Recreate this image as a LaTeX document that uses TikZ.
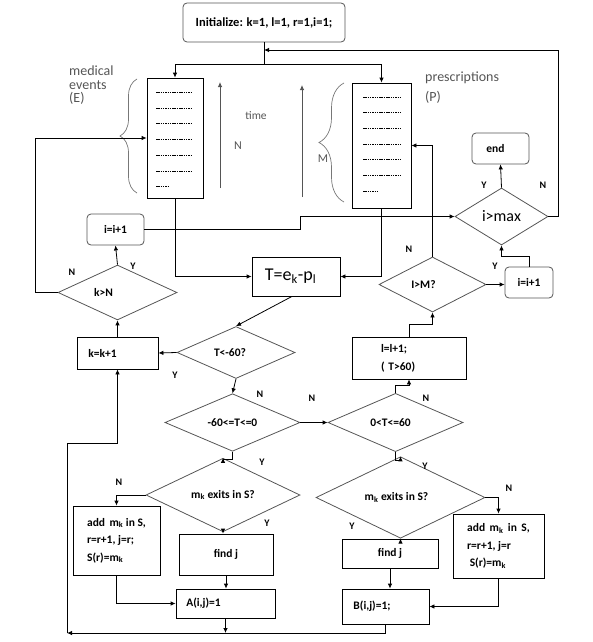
\documentclass[tikz,border=0pt]{standalone}
\usepackage{fontspec}
\setmainfont{Carlito}
\usetikzlibrary{arrows.meta,shapes.geometric,decorations.pathreplacing}
\definecolor{fgray}{HTML}{555555}
\newcommand{\pad}[1]{\rule{#1}{0pt}}
\tikzset{
  box/.style={draw, line width=0.8pt, inner sep=2pt, align=center, font=\bfseries\fontsize{11.5}{13}\selectfont},
  rbox/.style={box, rounded corners=4pt, draw=fgray},
  test/.style={draw=fgray, line width=0.8pt, shape=diamond, inner sep=0pt, font=\bfseries\fontsize{11.5}{13}\selectfont},
  arr/.style={line width=0.8pt, -{Latex[length=5pt,width=4.5pt]}},
  ln/.style={line width=0.8pt},
  yn/.style={font=\bfseries\fontsize{10}{12}\selectfont},
  rows/.style={line width=0.5pt, dash pattern=on 1.5pt off 0.8pt},
  curly/.style={draw=fgray!80, line width=0.7pt, decorate},
}
\begin{document}
\begin{tikzpicture}[x=1pt, y=-1pt]
\useasboundingbox (0,0) rectangle (593,642);
% ---------------- start and the two lists ----------------
\node[rbox, minimum width=162pt, minimum height=39pt, font=\bfseries\fontsize{12.5}{14}\selectfont] (init) at (264,22.5) {Initialize: k=1, l=1, r=1,i=1;};
\node[draw, line width=0.8pt, minimum width=56pt, minimum height=120pt] (E) at (175,138) {};
\node[draw, line width=0.8pt, minimum width=59pt, minimum height=125pt] (P) at (381.5,145.5) {};
\foreach \y in {92,108,123,139,155,171}{\draw[rows] (156,\y) -- (191,\y);}
\draw[rows] (156,186) -- (168,186);
\foreach \y in {97,112,128,144,159,175}{\draw[rows] (363,\y) -- (401,\y);}
\draw[rows] (363,191) -- (378,191);
\draw[curly, decoration={brace, amplitude=17pt}] (137,193) -- (137,79);
\draw[curly, decoration={brace, amplitude=25pt}] (344,202) -- (344,83);
\node[fgray, anchor=north west, align=left, inner sep=0pt, font=\fontsize{14}{13.5}\selectfont] (Elbl) at (69,66) {medical\\events\\(E)};
\node[fgray, anchor=north west, align=left, inner sep=0pt, font=\fontsize{14}{20}\selectfont] (Plbl) at (425,72) {prescriptions\\(P)};
\draw[fgray, line width=0.8pt, -{Latex[length=5pt,width=4.5pt]}] (220,188) -- (220,82);
\draw[fgray, line width=0.8pt, -{Latex[length=5pt,width=4.5pt]}] (302,197) -- (302,85);
\node[fgray, font=\fontsize{11.5}{13}\selectfont] (tlbl) at (256,116) {time};
\node[fgray, font=\fontsize{12}{14}\selectfont] (Nlbl) at (238,146) {N};
\node[fgray, font=\fontsize{12}{14}\selectfont] (Mlbl) at (323,159) {M};
% ---------------- middle ----------------
\node[box, minimum width=88pt, minimum height=39pt, font=\fontsize{18}{20}\selectfont] (T) at (296,276.5) {T=e\textsubscript{k}-p\textsubscript{l}\pad{11pt}};
\node[rbox, minimum width=57pt, minimum height=31pt] (inc1) at (115.5,229.5) {i=i+1};
\node[test, minimum width=119pt, minimum height=51pt] (kN) at (117.5,292.5) {k>N\pad{28pt}};
\node[box, minimum width=81pt, minimum height=32pt] (kk) at (117.5,353) {k=k+1\pad{30pt}};
\node[test, minimum width=118pt, minimum height=51pt] (Tlt) at (236,352.5) {T<-60?\pad{12pt}};
\node[test, minimum width=135pt, minimum height=55pt] (lm) at (232.5,422.5) {-60<=T<=0};
\node[test, minimum width=135pt, minimum height=55pt] (rm) at (395.5,422.5) {0<T<=60\pad{10pt}};
\node[box, minimum width=114pt, minimum height=42pt, text width=56pt, align=left, font=\bfseries\fontsize{11.5}{18}\selectfont] (ll) at (409,358) {l=l+1;\\( T>60)};
\node[test, minimum width=107pt, minimum height=55pt] (IM) at (432.5,284.5) {I>M?\pad{18pt}};
\node[rbox, minimum width=48pt, minimum height=31pt] (inc2) at (529,282.5) {i=i+1};
\node[test, minimum width=93pt, minimum height=57pt, font=\fontsize{16}{18}\selectfont] (imax) at (501.5,216.5) {i>max};
\node[rbox, minimum width=57pt, minimum height=31pt] (end) at (500.5,148.5) {end\pad{10pt}};
% ---------------- bottom ----------------
\node[test, minimum width=154pt, minimum height=56pt] (ex1) at (223,495) {m\textsubscript{k} exits in S?};
\node[test, minimum width=169pt, minimum height=61pt] (ex2) at (400.5,497.5) {m\textsubscript{k} exits in S?\pad{8pt}};
\node[box, minimum width=87pt, minimum height=69pt, align=left, font=\bfseries\fontsize{11.5}{17.5}\selectfont] (add1) at (116.5,540.5) {add\, m\textsubscript{k} in S,\\r=r+1, j=r;\\S(r)=m\textsubscript{k}};
\node[box, minimum width=94pt, minimum height=41pt] (find1) at (226,554.5) {find j};
\node[box, minimum width=99pt, minimum height=29pt] (A) at (225.5,603.5) {A(i,j)=1\pad{44pt}};
\node[box, minimum width=91pt, minimum height=64pt, align=left, font=\bfseries\fontsize{11.5}{17.5}\selectfont] (add2) at (498.5,546) {add\, m\textsubscript{k}\, in\, S,\\r=r+1, j=r\\\ S(r)=m\textsubscript{k}};
\node[box, minimum width=96pt, minimum height=29pt] (find2) at (390,553.5) {find j};
\node[box, minimum width=87pt, minimum height=35pt] (B) at (385.5,606.5) {B(i,j)=1;\pad{27pt}};
% ---------------- connectors ----------------
\coordinate (split) at (264,64);
\coordinate (back) at (264,50);
\coordinate (ret) at (67,633);
\coordinate (up) at (67,443);
\draw[ln] (init.south) -- (split);
\draw[arr] (split) -| (E.north);
\draw[arr] (split) -| (P.north);
\draw[arr] (imax.east) -- ++(10,0) |- (back);
\draw[arr] (E.south) |- (T.west);
\draw[arr] (P.south) |- (T.east);
\draw[arr] ([xshift=-4pt]T.south) -- (Tlt.north);
\draw[arr] (Tlt.west) -- (kk.east);
\draw[arr] (kk.north) -- (kN.south);
\draw[arr] (kN.north) -- (inc1.south);
\draw[arr] (kN.west) -- ++(-22,0) |- (E.west);
\draw[arr] (inc1.east) -- (300,229.5) |- (imax.west);
\draw[arr] (Tlt.south) -- (lm.north);
\draw[arr] (lm.east) -- (rm.west);
\draw[arr] (lm.south) -- ++(0,8) -| (ex1.north);
\draw[arr] (rm.south) -- ++(0,8) -| (ex2.north);
\draw[arr] (rm.north) -- ++(0,-8) -| (ll.south);
\draw[arr] (ll.north) -- ++(0,-12) -| (IM.south);
\draw[arr] (IM.east) -- (IM.east -| inc2.west);
\draw[arr] (inc2.north) -- ++(0,-10) -| (imax.south);
\draw[arr] (imax.north) -- (end.south);
\draw[arr] (IM.north) |- (P.east);
\draw[arr] (ex1.west) -| (add1.north);
\draw[arr] (ex1.south) -- (ex1.south |- find1.north);
\draw[arr] (find1.south) -- (A.north -| find1.south);
\draw[arr] (add1.south) |- (A.west);
\draw[arr] (ex2.east) -| (add2.north);
\draw[arr] (ex2.south) -- (ex2.south |- find2.north);
\draw[arr] (find2.south) -- (find2.south |- B.north);
\draw[arr] (add2.south) |- (B.east);
\draw[arr] (B.south) |- (ret);
\draw[arr] (A.south) -- (A.south |- ret);
\draw[arr] (ret) -- (up) -| (kk.south);
% ---------------- Y / N marks ----------------
\node[yn] (n1) at (72,272) {N};
\node[yn] (y1) at (133,266) {Y};
\node[yn] (y2) at (175,375) {Y};
\node[yn] (n2) at (260,394) {N};
\node[yn] (n3) at (312,398) {N};
\node[yn] (n4) at (426,398) {N};
\node[yn] (y3) at (262,462) {Y};
\node[yn] (n5) at (119,482) {N};
\node[yn] (y4) at (267,523) {Y};
\node[yn] (y5) at (425,466) {Y};
\node[yn] (n6) at (509,488) {N};
\node[yn] (y6) at (352,526) {Y};
\node[yn] (n7) at (409,249) {N};
\node[yn] (y7) at (495,266) {Y};
\node[yn] (y8) at (484,185) {Y};
\node[yn] (n8) at (543,185) {N};
\end{tikzpicture}
\end{document}
